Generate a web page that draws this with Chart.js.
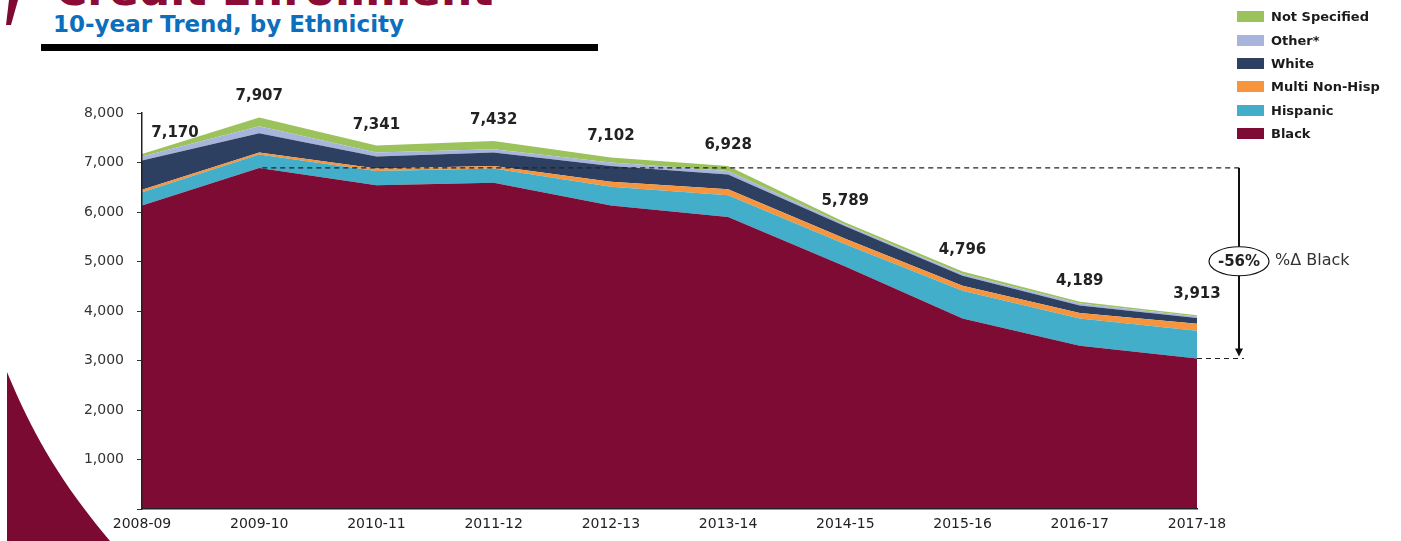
<!DOCTYPE html>
<html>
<head>
<meta charset="utf-8">
<script src="https://cdn.jsdelivr.net/npm/chart.js@4.4.1/dist/chart.umd.min.js"></script>
<style>
  body { margin: 0; background: #fff; width: 1401px; height: 541px; overflow: hidden; position: relative; font-family: 'DejaVu Sans', Verdana, sans-serif; }
  #deco { position: absolute; left: 0; top: 0; }
  #chart { position: absolute; left: 0; top: 0; }
  .subtitle { position: absolute; left: 53px; top: 10px; font: bold 23px 'DejaVu Sans', sans-serif; line-height: 28px; color: #0B6FBE; white-space: nowrap; }
  .bar { position: absolute; left: 41px; top: 44px; width: 557px; height: 7px; background: #000; }
  #legend { position: absolute; left: 1237px; top: 5px; }
  .row { display: flex; align-items: center; height: 23.4px; font: bold 13px 'DejaVu Sans', sans-serif; color: #1a1a1a; white-space: nowrap; }
  .box { width: 27px; height: 11px; margin-right: 7px; }
</style>
</head>
<body>
<svg id="deco" width="1401" height="541">
  <path d="M9,0 L18,0 L11,25 L6,25 Z" fill="#7E0A33"/>
  <path d="M7,372 C25,415 50,470 110,541 L7,541 Z" fill="#7A0A31"/>
  <text x="55" y="5" font-family="DejaVu Sans" font-weight="bold" font-size="44" fill="#8A0B36">Credit Enrollment</text>
</svg>
<div class="subtitle">10-year Trend, by Ethnicity</div>
<div class="bar"></div>
<canvas id="chart" width="1401" height="541"></canvas>
<div id="legend"></div>

<script>
// school years on the x axis
const years = ['2008-09', '2009-10', '2010-11', '2011-12', '2012-13', '2013-14', '2014-15', '2015-16', '2016-17', '2017-18']

// enrollment by ethnicity (stacked, bottom to top)
const black = [6130, 6890, 6540, 6590, 6130, 5900, 4900, 3850, 3300, 3040]
const hispanic = [270, 270, 290, 290, 380, 440, 450, 560, 550, 560]
const multiNonHisp = [50, 40, 50, 50, 100, 120, 110, 100, 110, 140]
const white = [590, 390, 240, 270, 320, 300, 250, 200, 150, 120]
const other = [80, 140, 80, 70, 70, 70, 30, 35, 40, 30]
const notSpecified = [50, 177, 141, 162, 102, 98, 49, 51, 39, 23]

// totals printed above each year
const totals = [7170, 7907, 7341, 7432, 7102, 6928, 5789, 4796, 4189, 3913]

const yTicks = [0, 1000, 2000, 3000, 4000, 5000, 6000, 7000, 8000]
const seriesNames = ['Black', 'Hispanic', 'Multi Non-Hisp', 'White', 'Other*', 'Not Specified']
const seriesColors = ['#7E0B34', '#42AECA', '#F7943E', '#2D4062', '#A7B4DC', '#9CC35B']
const seriesData = [black, hispanic, multiNonHisp, white, other, notSpecified]
const changeLabel = '-56%'
const changeText = '%\u0394 Black'

// legend (top item = top layer)
var legend = document.getElementById('legend')
for (var i = seriesNames.length - 1; i >= 0; i--) {
    var row = document.createElement('div')
    row.className = 'row'
    row.innerHTML = '<span class="box" style="background:' + seriesColors[i] + '"></span>' + seriesNames[i]
    legend.appendChild(row)
}

function fmt(n) {
    return n.toLocaleString('en-US')
}

const extras = {
    id: 'extras',
    afterDatasetsDraw(chart) {
        const ctx = chart.ctx
        const xs = chart.scales.x
        const ys = chart.scales.y

        // totals above each stack
        ctx.save()
        ctx.font = 'bold 15px "DejaVu Sans"'
        ctx.fillStyle = '#222'
        ctx.textAlign = 'center'
        ctx.textBaseline = 'middle'
        totals.forEach((t, i) => {
            var x = xs.getPixelForValue(i)
            if (i == 0) x += 33
            ctx.fillText(fmt(t), x, ys.getPixelForValue(t) - 21)
        })
        ctx.restore()

        // % change of Black, peak vs last year
        const last = years.length - 1
        const yTop = ys.getPixelForValue(black[1])
        const yBot = ys.getPixelForValue(black[last])
        const xEnd = xs.getPixelForValue(last)
        const ax = xEnd + 42

        ctx.save()
        ctx.strokeStyle = '#222'
        ctx.lineWidth = 1.2
        ctx.setLineDash([5, 4])
        ctx.beginPath()
        ctx.moveTo(xs.getPixelForValue(1) + 3, yTop)
        ctx.lineTo(ax + 3, yTop)
        ctx.moveTo(xEnd, yBot)
        ctx.lineTo(ax + 5, yBot)
        ctx.stroke()
        ctx.setLineDash([])

        const cy = (yTop + yBot) / 2 - 2
        const rx = 30, ry = 14.5
        ctx.lineWidth = 2
        ctx.strokeStyle = '#111'
        ctx.beginPath()
        ctx.moveTo(ax, yTop)
        ctx.lineTo(ax, cy - ry)
        ctx.moveTo(ax, cy + ry)
        ctx.lineTo(ax, yBot - 8)
        ctx.stroke()
        ctx.fillStyle = '#111'
        ctx.beginPath()
        ctx.moveTo(ax - 4, yBot - 10)
        ctx.lineTo(ax + 4, yBot - 10)
        ctx.lineTo(ax, yBot - 2)
        ctx.closePath()
        ctx.fill()

        ctx.lineWidth = 1.2
        ctx.beginPath()
        ctx.ellipse(ax, cy, rx, ry, 0, 0, Math.PI * 2)
        ctx.stroke()

        ctx.fillStyle = '#222'
        ctx.textBaseline = 'middle'
        ctx.textAlign = 'center'
        ctx.font = 'bold 15px "DejaVu Sans"'
        ctx.fillText(changeLabel, ax, cy + 1)
        ctx.textAlign = 'left'
        ctx.font = '16px "DejaVu Sans"'
        ctx.fillStyle = '#333'
        ctx.fillText(changeText, ax + 36, cy)
        ctx.restore()
    }
}

const ctx1 = document.getElementById('chart').getContext('2d')

new Chart(ctx1, {
    type: 'line',
    data: {
        labels: years,
        datasets: seriesData.map((d, i) => ({
            label: seriesNames[i],
            data: d,
            fill: i == 0 ? 'origin' : '-1',
            backgroundColor: seriesColors[i],
            borderWidth: 0,
            pointRadius: 0,
            tension: 0
        }))
    },
    options: {
        responsive: false,
        animation: false,
        layout: { padding: { left: 0, right: 204, top: 113, bottom: 0 } },
        plugins: {
            legend: { display: false },
            tooltip: { enabled: false }
        },
        scales: {
            x: {
                offset: false,
                grid: { display: false, drawTicks: false },
                border: { display: true, color: '#222', width: 1.5, z: 1 },
                ticks: {
                    autoSkip: false,
                    maxRotation: 0,
                    padding: 7,
                    color: '#222',
                    font: { family: 'DejaVu Sans', size: 14 }
                },
                afterFit: (s) => { s.height = 32 }
            },
            y: {
                stacked: true,
                min: yTicks[0],
                max: yTicks[yTicks.length - 1],
                afterBuildTicks: (s) => { s.ticks = yTicks.map(v => ({ value: v })) },
                grid: { display: true, drawOnChartArea: false, drawTicks: true, tickLength: 5, color: '#333' },
                border: { display: true, color: '#222', width: 1.5, z: 1 },
                ticks: {
                    padding: 13,
                    color: '#333',
                    font: { family: 'DejaVu Sans', size: 14 },
                    callback: (v) => v == 0 ? '' : fmt(v)
                },
                afterFit: (s) => { s.width = 142 }
            }
        }
    },
    plugins: [extras]
})
</script>
</body>
</html>
